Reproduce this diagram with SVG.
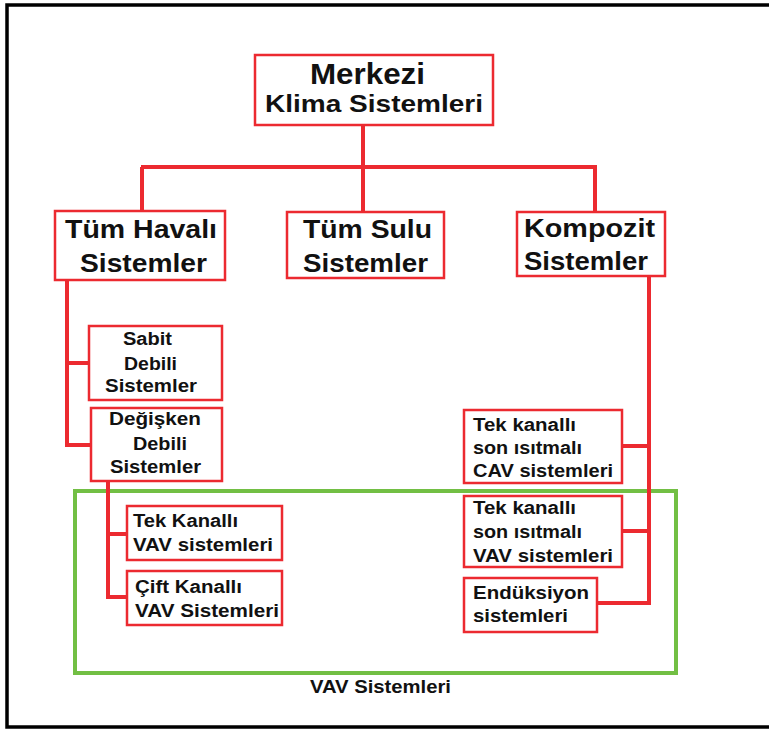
<svg xmlns="http://www.w3.org/2000/svg" width="769" height="729" viewBox="0 0 769 729">
<style>
.box{fill:#fff;stroke:#ec2a30;stroke-width:2.5}
.con{fill:none;stroke:#ec2a30;stroke-width:4;stroke-linejoin:miter}
.t{font-family:"Liberation Sans",Arial,sans-serif;font-weight:bold;fill:#111}
.s{font-size:18px}
.m{font-size:25px}
</style>
<rect width="769" height="729" fill="#fff"/>
<path d="M769,5 H7 V727 H769" fill="none" stroke="#000" stroke-width="3.5"/>
<rect id="vav-group" x="75" y="491" width="601" height="182" fill="none" stroke="#72bf44" stroke-width="4"/>
<g id="connectors">
<path class="con" d="M363,125 V167 M141,167 H597 M142,167 V211 M363,167 V212 M595,167 V212"/>
<path class="con" d="M67,280 V445 H91 M67,363 H89"/>
<path class="con" d="M108,481 V597 H127 M108,534 H127"/>
<path class="con" d="M649,276 V603 H597 M649,446 H622 M649,531 H622"/>
</g>
<g id="merkezi">
<rect class="box" x="255" y="55" width="238" height="70"/>
<text class="t" x="310" y="84" font-size="29" textLength="115" lengthAdjust="spacingAndGlyphs">Merkezi</text>
<text class="t" x="265" y="112" font-size="24" textLength="218" lengthAdjust="spacingAndGlyphs">Klima Sistemleri</text>
</g>
<g id="tum-havali">
<rect class="box" x="55" y="211" width="170" height="69"/>
<text class="t m" x="65" y="238" textLength="152" lengthAdjust="spacingAndGlyphs">Tüm Havalı</text>
<text class="t m" x="80" y="272" textLength="127" lengthAdjust="spacingAndGlyphs">Sistemler</text>
</g>
<g id="tum-sulu">
<rect class="box" x="287" y="212" width="157" height="66"/>
<text class="t m" x="303" y="238" textLength="129" lengthAdjust="spacingAndGlyphs">Tüm Sulu</text>
<text class="t m" x="303" y="272" textLength="125" lengthAdjust="spacingAndGlyphs">Sistemler</text>
</g>
<g id="kompozit">
<rect class="box" x="517" y="212" width="148" height="64"/>
<text class="t m" x="524" y="237" textLength="131" lengthAdjust="spacingAndGlyphs">Kompozit</text>
<text class="t m" x="524" y="270" textLength="124" lengthAdjust="spacingAndGlyphs">Sistemler</text>
</g>
<g id="sabit">
<rect class="box" x="89" y="326" width="133" height="74"/>
<text class="t s" x="123" y="345" textLength="49" lengthAdjust="spacingAndGlyphs">Sabit</text>
<text class="t s" x="124" y="370" textLength="53" lengthAdjust="spacingAndGlyphs">Debili</text>
<text class="t s" x="105" y="392" textLength="92" lengthAdjust="spacingAndGlyphs">Sistemler</text>
</g>
<g id="degisken">
<rect class="box" x="91" y="408" width="131" height="73"/>
<text class="t s" x="109" y="425" textLength="92" lengthAdjust="spacingAndGlyphs">Değişken</text>
<text class="t s" x="133" y="450" textLength="54" lengthAdjust="spacingAndGlyphs">Debili</text>
<text class="t s" x="110" y="473" textLength="91" lengthAdjust="spacingAndGlyphs">Sistemler</text>
</g>
<g id="tek-kanalli">
<rect class="box" x="127" y="506" width="155" height="54"/>
<text class="t s" x="133" y="527" textLength="105" lengthAdjust="spacingAndGlyphs">Tek Kanallı</text>
<text class="t s" x="133" y="551" textLength="140" lengthAdjust="spacingAndGlyphs">VAV sistemleri</text>
</g>
<g id="cift-kanalli">
<rect class="box" x="127" y="571" width="155" height="54"/>
<text class="t s" x="135" y="593" textLength="107" lengthAdjust="spacingAndGlyphs">Çift Kanallı</text>
<text class="t s" x="135" y="617" textLength="144" lengthAdjust="spacingAndGlyphs">VAV Sistemleri</text>
</g>
<g id="cav">
<rect class="box" x="464" y="410" width="158" height="73"/>
<text class="t s" x="473" y="431" textLength="103" lengthAdjust="spacingAndGlyphs">Tek kanallı</text>
<text class="t s" x="473" y="454" textLength="109" lengthAdjust="spacingAndGlyphs">son ısıtmalı</text>
<text class="t s" x="473" y="477" textLength="140" lengthAdjust="spacingAndGlyphs">CAV sistemleri</text>
</g>
<g id="vav-son">
<rect class="box" x="464" y="496" width="158" height="71"/>
<text class="t s" x="473" y="514" textLength="103" lengthAdjust="spacingAndGlyphs">Tek kanallı</text>
<text class="t s" x="473" y="538" textLength="109" lengthAdjust="spacingAndGlyphs">son ısıtmalı</text>
<text class="t s" x="473" y="562" textLength="140" lengthAdjust="spacingAndGlyphs">VAV sistemleri</text>
</g>
<g id="enduksiyon">
<rect class="box" x="464" y="578" width="133" height="54"/>
<text class="t s" x="473" y="599" textLength="116" lengthAdjust="spacingAndGlyphs">Endüksiyon</text>
<text class="t s" x="473" y="622" textLength="95" lengthAdjust="spacingAndGlyphs">sistemleri</text>
</g>
<text id="vav-label" class="t" x="310" y="693" font-size="19" textLength="141" lengthAdjust="spacingAndGlyphs">VAV Sistemleri</text>
</svg>
